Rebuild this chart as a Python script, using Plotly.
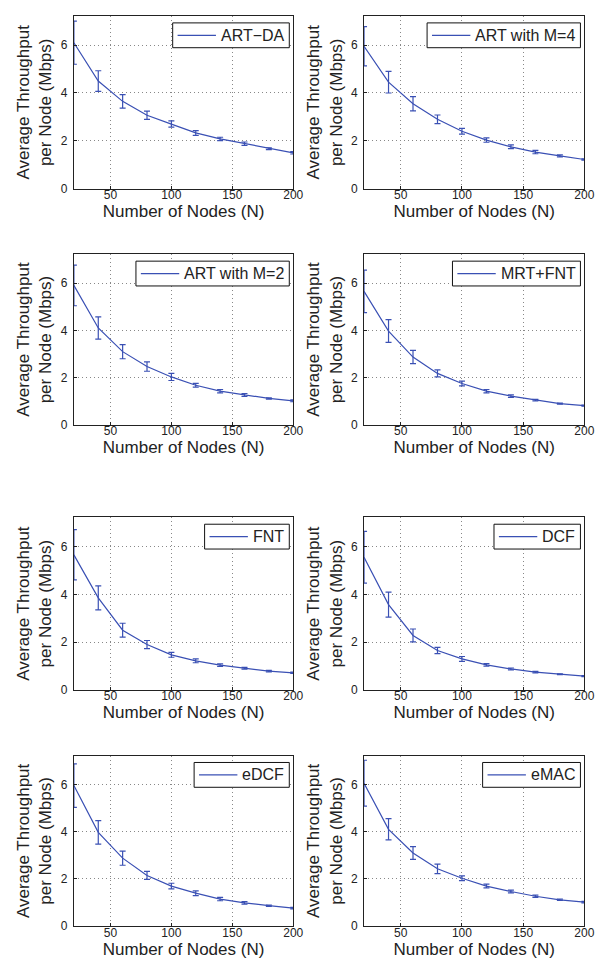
import plotly.graph_objects as go

nodes = [20, 40, 60, 80, 100, 120, 140, 160, 180, 200]

names = ["ART\u2212DA", "ART with M=4", "ART with M=2", "MRT+FNT", "FNT", "DCF", "eDCF", "eMAC"]

art_da = [6.1, 4.5, 3.65, 3.07, 2.7, 2.33, 2.08, 1.88, 1.67, 1.5]
art_da_err = [0.9, 0.43, 0.28, 0.17, 0.13, 0.1, 0.07, 0.07, 0.04, 0.05]
art_m4 = [5.95, 4.45, 3.55, 2.9, 2.4, 2.03, 1.75, 1.53, 1.37, 1.22]
art_m4_err = [0.82, 0.45, 0.3, 0.18, 0.12, 0.09, 0.08, 0.07, 0.04, 0.03]
art_m2 = [5.9, 4.1, 3.1, 2.47, 2.03, 1.68, 1.43, 1.27, 1.12, 1.02]
art_m2_err = [0.86, 0.47, 0.3, 0.2, 0.15, 0.08, 0.07, 0.06, 0.03, 0.04]
mrt_fnt = [5.65, 3.97, 2.87, 2.18, 1.75, 1.43, 1.22, 1.05, 0.9, 0.82]
mrt_fnt_err = [0.9, 0.48, 0.28, 0.15, 0.1, 0.07, 0.05, 0.03, 0.02, 0.02]
fnt = [5.65, 3.85, 2.5, 1.9, 1.47, 1.22, 1.04, 0.91, 0.79, 0.72]
fnt_err = [1.05, 0.5, 0.29, 0.17, 0.1, 0.08, 0.05, 0.04, 0.03, 0.03]
dcf = [5.55, 3.57, 2.28, 1.65, 1.3, 1.05, 0.88, 0.75, 0.66, 0.58]
dcf_err = [1.08, 0.52, 0.27, 0.13, 0.1, 0.05, 0.04, 0.03, 0.02, 0.02]
edcf = [5.95, 3.97, 2.88, 2.15, 1.7, 1.4, 1.15, 0.99, 0.87, 0.77]
edcf_err = [0.92, 0.5, 0.3, 0.17, 0.12, 0.1, 0.07, 0.05, 0.03, 0.03]
emac = [6.05, 4.1, 3.1, 2.43, 2.03, 1.7, 1.47, 1.27, 1.12, 1.02]
emac_err = [0.97, 0.45, 0.27, 0.2, 0.1, 0.08, 0.06, 0.05, 0.03, 0.03]

series = [art_da, art_m4, art_m2, mrt_fnt, fnt, dcf, edcf, emac]
errors = [art_da_err, art_m4_err, art_m2_err, mrt_fnt_err, fnt_err, dcf_err, edcf_err, emac_err]

x_ticks = [50, 100, 150, 200]
y_ticks = [0, 2, 4, 6]

W, H = 608, 963
col_x = [(67, 290), (362, 586)]
row_y = [(8, 182), (248, 420), (513, 687), (753, 925)]

BLUE = "#3a50b4"
FONT = "Liberation Sans, Arial, sans-serif"
LEG_SIZE = 16

# Helvetica/Liberation Sans advance widths (per 1000 em) for legend box sizing
CW = {"A": 667, "R": 722, "T": 611, "\u2212": 584, "D": 722, " ": 278, "w": 722, "i": 222,
      "t": 278, "h": 556, "M": 833, "=": 584, "4": 556, "2": 556, "+": 584, "F": 611,
      "N": 722, "C": 722, "e": 556, "E": 667}


def text_width(s, size):
    return sum(CW.get(ch, 600) for ch in s) / 1000 * size


fig = go.Figure()
layout = dict(
    width=W, height=H, margin=dict(l=0, r=0, t=0, b=0),
    paper_bgcolor="white", plot_bgcolor="white",
    font=dict(family=FONT, color="#222"),
    showlegend=False,
)
shapes = []
annotations = []

for i in range(8):
    r, c = divmod(i, 2)
    x0, x1 = col_x[c]
    ytop, ybot = row_y[r]
    xd = [x0 / W, x1 / W]
    yd = [1 - ybot / H, 1 - ytop / H]
    sfx = "" if i == 0 else str(i + 1)
    fig.add_trace(go.Scatter(
        x=nodes, y=series[i], mode="lines", name=names[i],
        line=dict(color=BLUE, width=1.2),
        error_y=dict(type="data", array=errors[i], visible=True, color=BLUE, thickness=1.2, width=3),
        xaxis="x" + sfx, yaxis="y" + sfx, cliponaxis=False,
    ))
    axcommon = dict(showline=True, linecolor="#222", linewidth=1, mirror=True,
                    showgrid=True, gridcolor="#888", griddash="1px,3px", gridwidth=1,
                    ticks="inside", ticklen=3, tickcolor="#222", zeroline=False,
                    tickfont=dict(size=12, family=FONT, color="#222"))
    layout["xaxis" + sfx] = dict(axcommon, domain=xd, range=[20, 200], tickvals=x_ticks,
                                  anchor="y" + sfx, ticklabelstandoff=-5,
                                  title=dict(text="Number of Nodes (N)", font=dict(size=17, family=FONT, color="#222"), standoff=0))
    layout["yaxis" + sfx] = dict(axcommon, domain=yd, range=[0, 7.22], tickvals=y_ticks,
                                  anchor="x" + sfx, ticklabelstandoff=3,
                                  title=dict(text="Average Throughput<br>per Node (Mbps)", font=dict(size=17, family=FONT, color="#222"), standoff=4))

    # legend box (drawn manually for exact MATLAB-like placement)
    tw = text_width(names[i], LEG_SIZE)
    bx1 = x1 - 4
    bx0 = bx1 - (tw + 55)
    by0 = ytop + 7
    by1 = by0 + 25
    ymid = (by0 + by1) / 2
    shapes.append(dict(type="rect", xref="paper", yref="paper",
                       x0=bx0 / W, x1=bx1 / W, y0=1 - by1 / H, y1=1 - by0 / H,
                       line=dict(color="#111", width=1), fillcolor="white", layer="above"))
    shapes.append(dict(type="line", xref="paper", yref="paper",
                       x0=(bx0 + 5) / W, x1=(bx0 + 44) / W, y0=1 - ymid / H, y1=1 - ymid / H,
                       line=dict(color=BLUE, width=1.2), layer="above"))
    annotations.append(dict(xref="paper", yref="paper", x=(bx0 + 47) / W, y=1 - ymid / H,
                            xanchor="left", yanchor="middle", text=names[i], showarrow=False,
                            font=dict(size=LEG_SIZE, family=FONT, color="#222")))

layout["shapes"] = shapes
layout["annotations"] = annotations
fig.update_layout(**layout)
fig.write_html("out.html")
